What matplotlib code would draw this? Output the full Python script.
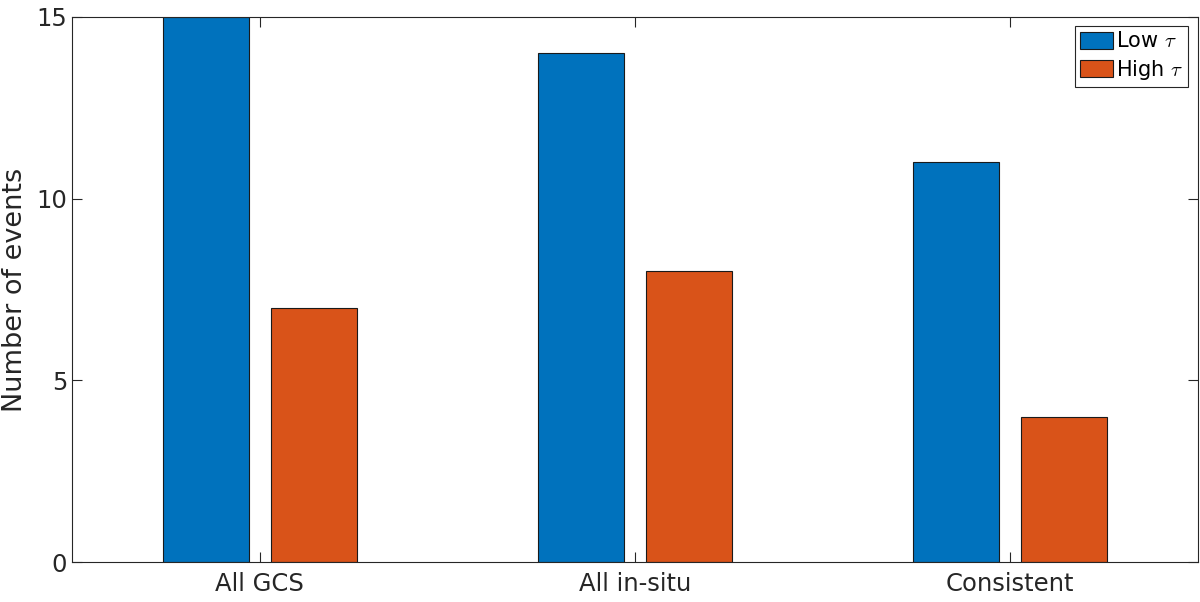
import numpy as np
import matplotlib
matplotlib.use("Agg")
import matplotlib.pyplot as plt

# データ
categories = ["All GCS", "All in-situ", "Consistent"]
low_tau = [15, 14, 11]
high_tau = [7, 8, 4]

plt.rcParams['font.family'] = ['DejaVu Sans']
plt.rcParams['mathtext.fontset'] = 'cm'

fig = plt.figure(figsize=(12, 6.02), dpi=100)
ax = fig.add_axes([0.06, 0.066, 0.938, 0.906])

x = np.arange(1, len(categories) + 1)
w = 0.229
off = 0.144
ax.bar(x - off, low_tau, w, color="#0072BD", edgecolor="#1a1a1a", linewidth=0.8, label=r"Low $\tau$")
ax.bar(x + off, high_tau, w, color="#D95319", edgecolor="#1a1a1a", linewidth=0.8, label=r"High $\tau$")

ax.set_xlim(0.5, 3.5)
ax.set_ylim(0, 15)
ax.set_xticks(x)
ax.set_xticklabels(categories)
ax.set_yticks([0, 5, 10, 15])
ax.set_ylabel("Number of events", fontsize=19.5, color="#262626", labelpad=6)
ax.tick_params(direction="in", length=7, width=0.8, labelsize=17.5, colors="#262626",
               top=True, right=True, labeltop=False, labelright=False)
ax.tick_params(axis="x", pad=7)
for s in ax.spines.values():
    s.set_color("#262626")
    s.set_linewidth(0.8)

leg = ax.legend(loc="upper right", fontsize=15, fancybox=False, framealpha=1,
                edgecolor="#262626", borderpad=0.25, handlelength=1.55, handleheight=0.9,
                handletextpad=0.15, labelspacing=0.3, borderaxespad=0.45)
leg.get_frame().set_linewidth(0.8)

fig.savefig("out.png", dpi=100)
